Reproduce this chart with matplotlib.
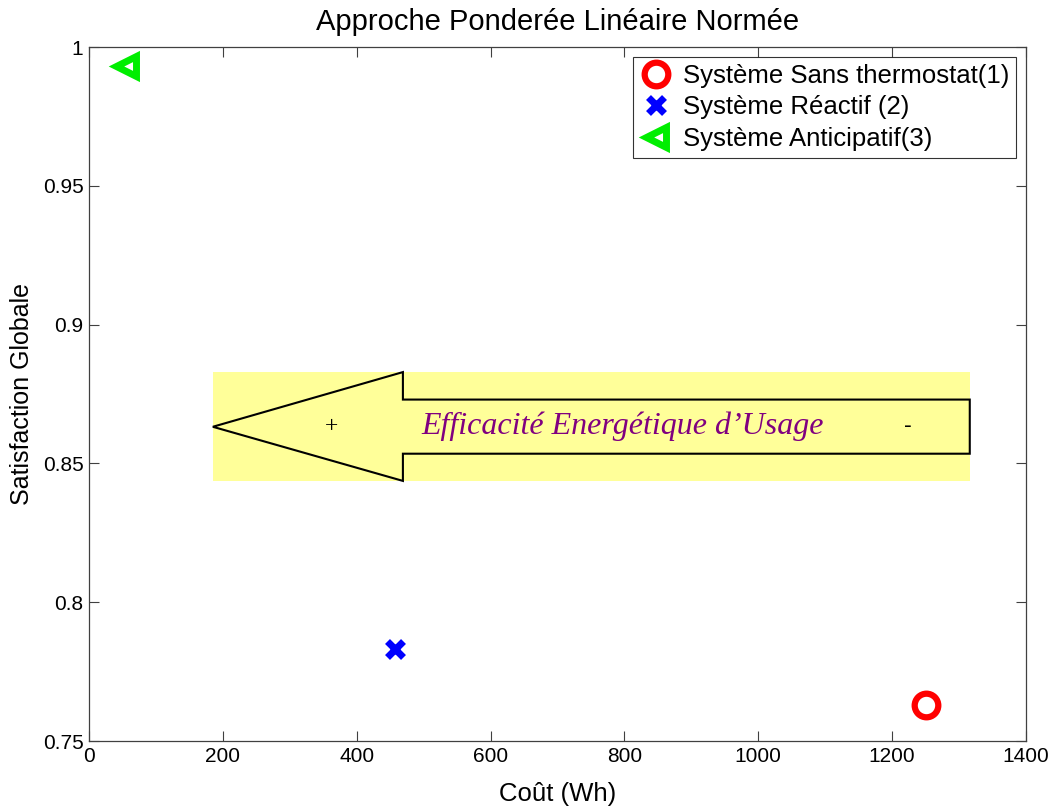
import matplotlib
matplotlib.use('Agg')
import matplotlib.pyplot as plt
from matplotlib.patches import Polygon, Rectangle

plt.rcParams['font.family'] = ['Liberation Sans', 'DejaVu Sans']

# data
systems = ['Système Sans thermostat(1)', 'Système Réactif (2)', 'Système Anticipatif(3)']
cost = [1250, 457, 55]
satisfaction = [0.763, 0.783, 0.993]
markers = ['o', 'x', '<']
colors = ['#ff0000', '#0000ff', '#00ee00']

xticks = [0, 200, 400, 600, 800, 1000, 1200, 1400]
yticks = [0.75, 0.8, 0.85, 0.9, 0.95, 1.0]
ytick_labels = ['0.75', '0.8', '0.85', '0.9', '0.95', '1']

fig = plt.figure(figsize=(10.51, 8.08), dpi=100)
ax = fig.add_axes([0.0847, 0.0829, 0.8915, 0.8589])

for name, x, y, m, c in zip(systems, cost, satisfaction, markers, colors):
    if m == 'o':
        ax.plot(x, y, m, ms=17, mfc='none', mec=c, mew=4.5, label=name, zorder=5)
    elif m == 'x':
        ax.plot(x, y, m, ms=12, mec=c, mew=5, label=name, zorder=5)
    else:
        ax.plot(x, y, m, ms=15, mfc='none', mec=c, mew=5, label=name, zorder=5)

# annotation: yellow band with left arrow
ax.add_patch(Rectangle((185, 0.8437), 1132, 0.0392, facecolor='#ffff99', edgecolor='none', zorder=1))
arrow = [(185, 0.8632), (469, 0.8829), (469, 0.8730), (1316, 0.8730),
         (1316, 0.8535), (469, 0.8535), (469, 0.8437)]
ax.add_patch(Polygon(arrow, closed=True, facecolor='#ffff99', edgecolor='black', lw=1.5, zorder=2))
ax.text(363, 0.8633, '+', fontsize=17, family='Liberation Serif', ha='center', va='center', zorder=3)
ax.text(797, 0.8633, 'Efficacité Energétique d\u2019Usage', fontsize=23, family='Liberation Serif',
        style='italic', color='#800080', ha='center', va='center', zorder=3)
ax.text(1224, 0.8633, '-', fontsize=17, ha='center', va='center', zorder=3)

ax.set_xlim(0, 1400)
ax.set_ylim(0.75, 1.0)
ax.set_xticks(xticks)
ax.set_yticks(yticks)
ax.set_yticklabels(ytick_labels)
ax.tick_params(direction='in', top=True, right=True, labelsize=15, length=7, pad=4,
               color='#404040')
for s in ax.spines.values():
    s.set_linewidth(0.9)
    s.set_color('#404040')

ax.set_xlabel('Coût (Wh)', fontsize=18.5, labelpad=12)
ax.set_ylabel('Satisfaction Globale', fontsize=18, labelpad=6)
ax.set_title('Approche Ponderée Linéaire Normée', fontsize=21, pad=12)

leg = ax.legend(loc='upper right', fontsize=18.5, frameon=True, fancybox=False,
                edgecolor='black', borderpad=0.25, handletextpad=0.4, labelspacing=0.3,
                handlelength=1.3, markerscale=1.0, borderaxespad=0.4)
leg.get_frame().set_linewidth(0.8)

fig.savefig('out.png', dpi=100)
